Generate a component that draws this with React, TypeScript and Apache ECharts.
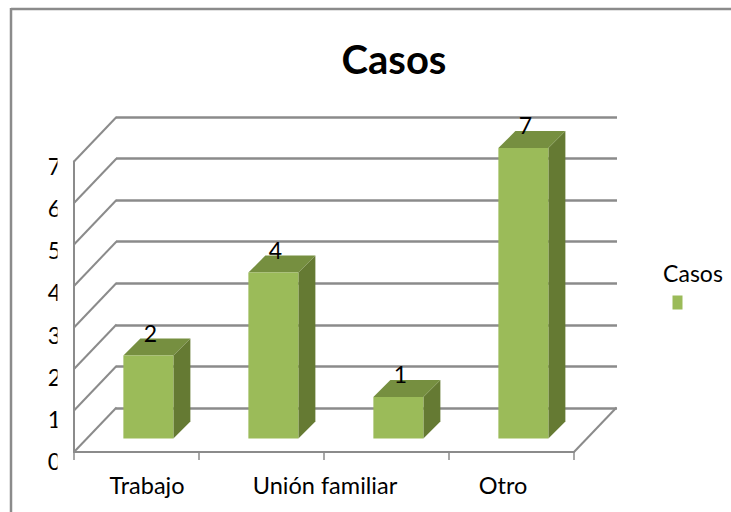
import React, { useEffect, useRef } from "react";
import * as echarts from "echarts";

const titleText = "Casos";
const seriesName = "Casos";
const categoryLabels = ["Trabajo", "Unión familiar", "Otro"];
const barSlots = ["Trabajo", "Unión familiar", "(sin etiqueta)", "Otro"];
const barValues = [2, 4, 1, 7];
const gridLevels = [0, 1, 2, 3, 4, 5, 6, 7];

const FONT = "Lato, Carlito, Calibri, sans-serif";
const GREY = "#8b8b8b";

function renderBar(params: any, api: any) {
  const slot = api.value(0);
  const value = api.value(1);
  const size = api.size([1, 0]);
  const base = api.coord([slot, 0]);
  const top = api.coord([slot, value]);
  const barW = size[0] * 0.4;
  const x0 = base[0] + size[0] * 0.095 - barW / 2;
  const x1 = x0 + barW;
  const y0 = base[1] - 13.5;
  const y1 = top[1] - 13.5;
  const d = 17;
  return {
    type: "group",
    children: [
      { type: "polygon", shape: { points: [[x1, y0], [x1 + d, y0 - d], [x1 + d, y1 - d], [x1, y1]] }, style: { fill: "#657A33" } },
      { type: "polygon", shape: { points: [[x0, y1], [x0 + d, y1 - d], [x1 + d, y1 - d], [x1, y1]] }, style: { fill: "#768F40" } },
      { type: "rect", shape: { x: x0, y: y1, width: barW, height: y0 - y1 }, style: { fill: "#9BBB59" } },
      {
        type: "text",
        style: {
          x: (x0 + x1) / 2 + 2,
          y: y1 - 23,
          text: String(value),
          fill: "#000",
          fontSize: 23,
          fontFamily: FONT,
          align: "center",
          verticalAlign: "middle",
        },
      },
    ],
  };
}

export default function App() {
  const ref = useRef<HTMLDivElement>(null);
  useEffect(() => {
    document.body.style.margin = "0";
    const chart = echarts.init(ref.current!, null, { renderer: "svg" });
    chart.setOption({
      animation: false,
      backgroundColor: "#fff",
      title: {
        text: titleText,
        left: 389,
        top: 34,
        textAlign: "center",
        textStyle: { fontFamily: FONT, fontSize: 40, fontWeight: "bold", color: "#000" },
      },
      legend: {
        left: 667.5,
        top: 290.5,
        itemWidth: 10,
        itemHeight: 14,
        itemGap: 0,
        icon: "rect",
        data: [seriesName],
        formatter: () => "",
        selectedMode: false,
      },
      grid: [
        { left: 74, top: 161.5, width: 500, height: 290.5 },
        { left: 116, top: 117, width: 501, height: 291 },
        { left: 58, top: 452, width: 534, height: 1 },
        { left: 74, top: 166, width: 500, height: 295 },
      ],
      xAxis: [
        {
          gridIndex: 0,
          type: "category",
          data: barSlots,
          axisLine: { lineStyle: { color: GREY, width: 2 } },
          axisTick: { show: true, length: 8, alignWithLabel: false, lineStyle: { color: GREY, width: 1.5 } },
          axisLabel: { show: false },
        },
        {
          gridIndex: 1,
          type: "category",
          data: barSlots,
          axisLine: { show: false },
          axisTick: { show: false },
          axisLabel: { show: false },
        },
        {
          gridIndex: 2,
          type: "category",
          data: categoryLabels,
          axisLine: { show: false },
          axisTick: { show: false },
          axisLabel: { fontFamily: FONT, fontSize: 23.5, color: "#000", margin: 20, interval: 0 },
        },
        {
          gridIndex: 3,
          type: "category",
          data: barSlots,
          show: false,
        },
      ],
      yAxis: [
        {
          gridIndex: 0,
          type: "value",
          min: 0,
          max: 7,
          interval: 1,
          axisLine: { show: true, lineStyle: { color: GREY, width: 2 } },
          axisTick: { show: false },
          splitLine: { show: false },
          axisLabel: { show: false },
        },
        {
          gridIndex: 1,
          type: "value",
          min: 0,
          max: 7,
          interval: 1,
          axisLine: { show: false },
          axisTick: { show: false },
          axisLabel: { show: false },
          splitLine: { show: true, lineStyle: { color: GREY, width: 2.5 } },
        },
        {
          gridIndex: 2,
          type: "value",
          show: false,
        },
        {
          gridIndex: 3,
          type: "value",
          min: 0,
          max: 7,
          interval: 1,
          axisLine: { show: false },
          axisTick: { show: false },
          splitLine: { show: false },
          axisLabel: { fontFamily: FONT, fontSize: 23, color: "#000", margin: 13 },
        },
      ],
      series: [
        {
          type: "custom",
          name: "diagonales",
          xAxisIndex: 0,
          yAxisIndex: 0,
          coordinateSystem: "cartesian2d",
          renderItem: (p: any, api: any) => {
            const point = api.coord([api.value(0), api.value(1)]);
            const size = api.size([1, 0]);
            const px = api.value(2) === 1 ? point[0] + size[0] * 3.5 : point[0] - size[0] / 2;
            return {
              type: "line",
              shape: { x1: px, y1: point[1], x2: px + 42.5, y2: point[1] - 44.5 },
              style: { stroke: GREY, lineWidth: 2 },
            };
          },
          data: [...gridLevels.map((v) => [0, v, 0]), [0, 0, 1]],
          silent: true,
          z: 2,
        },
        {
          type: "custom",
          name: seriesName,
          xAxisIndex: 0,
          yAxisIndex: 0,
          coordinateSystem: "cartesian2d",
          renderItem: renderBar,
          itemStyle: { color: "#9BBB59" },
          data: barValues.map((v, i) => [i, v]),
          z: 5,
        },
      ],
      graphic: [
        { type: "rect", z: 100, shape: { x: 57.5, y: 150, width: 6, height: 325 }, style: { fill: "#fff" } },
        { type: "line", z: 100, shape: { x1: 11, y1: 9, x2: 731, y2: 9 }, style: { stroke: GREY, lineWidth: 2.5 } },
        { type: "line", z: 100, shape: { x1: 11, y1: 8, x2: 11, y2: 512 }, style: { stroke: GREY, lineWidth: 2.5 } },
        {
          type: "text",
          z: 100,
          style: { x: 693, y: 273, text: seriesName, fill: "#000", fontSize: 23, fontFamily: FONT, align: "center", verticalAlign: "middle" },
        },
      ],
    });
    return () => chart.dispose();
  }, []);
  return <div ref={ref} style={{ position: "absolute", left: 0, top: 0, width: 731, height: 512 }} />;
}
